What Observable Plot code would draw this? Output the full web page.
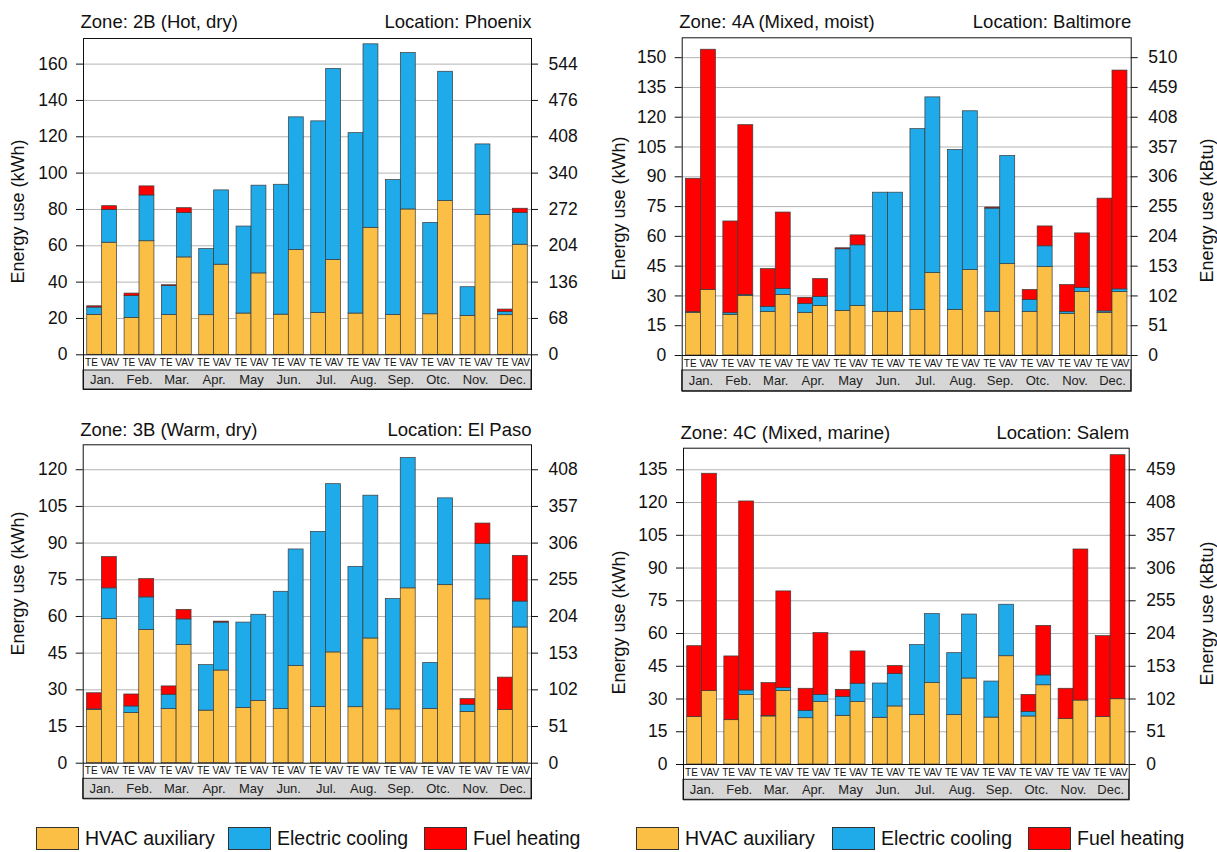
<!DOCTYPE html>
<html><head><meta charset="utf-8">
<script src="https://cdn.jsdelivr.net/npm/d3@7"></script>
<script src="https://cdn.jsdelivr.net/npm/@observablehq/plot@0.6"></script>
<style>
body{margin:0;background:#fff;font-family:"Liberation Sans",Arial,sans-serif;}
#root{position:relative;width:1217px;height:852px;overflow:hidden;}
.panel{position:absolute;}
.sw{position:absolute;width:43px;height:23px;box-sizing:border-box;border:1px solid #333;}
.lt{position:absolute;font-size:19.5px;line-height:23px;color:#111;white-space:nowrap;}
</style></head>
<body><div id="root"></div>
<script>
const months = ["Jan.","Feb.","Mar.","Apr.","May","Jun.","Jul.","Aug.","Sep.","Otc.","Nov.","Dec."];
const systems = ["TE","VAV"];
const series = ["HVAC auxiliary","Electric cooling","Fuel heating"];
const colors = ["#FBBF45","#1FAAE9","#FF0000"];

// values ordered Jan TE, Jan VAV, Feb TE, Feb VAV, ... (kWh)
const phoenixAux  = [22,61.7,20.3,62.5,21.9,53.6,21.8,49.6,22.7,44.8,22.1,57.7,23,52.2,22.7,69.9,21.9,80,22.3,84.6,21.4,76.9,21.8,60.6];
const phoenixCool = [4,18.1,12,25.2,15.9,24.4,36.4,40.9,47.9,48.3,71.5,73,105.5,105.2,99.3,101,74.3,86.1,50.3,71.2,15.8,38.9,1.8,17.4];
const phoenixHeat = [0.7,2,1.4,5,0.5,2.7,0,0,0,0,0,0,0,0,0,0,0,0,0,0,0,0,1.3,2.4];
const phoenixTicks = [0,20,40,60,80,100,120,140,160];
const phoenixKbtu = ["0","68","136","204","272","340","408","476","544"];

const baltimoreAux  = [21.5,33,20.5,30,22,30.5,21.5,25,22.5,25,22,22,23,41.5,23,43,22,46,22,44.5,21,32,21.5,32];
const baltimoreCool = [0.3,0,0.8,0.5,2.5,3,4.5,4.5,31,30.5,60,60,91,88.5,80.5,80,52,54.5,6,10.5,1,2,0.7,1.3];
const baltimoreHeat = [67.2,121,46.2,85.5,19,38.5,3,9,0.5,5,0,0,0,0,0,0,0.5,0,5,10,13.5,27.5,56.8,110.2];
const baltimoreTicks = [0,15,30,45,60,75,90,105,120,135,150];
const baltimoreKbtu = ["0","51","102","153","204","255","306","357","408","459","510"];

const elPasoAux  = [21.7,58.9,20.5,54.5,22.1,48.3,21.5,37.9,22.6,25.5,22.1,39.7,23,45.3,22.9,51,22,71.5,22.2,72.8,21,67,21.7,55.5];
const elPasoCool = [0.3,12.6,2.7,13.3,5.9,10.5,18.6,19.6,34.9,35.2,48,47.7,71.6,68.8,57.4,58.4,45.1,53.3,18.8,35.5,2.9,22.6,0,10.6];
const elPasoHeat = [6.6,12.8,4.9,7.5,3.4,3.9,0,0.4,0,0,0,0,0,0,0,0,0,0,0,0,2.3,8.4,13.3,18.7];
const elPasoTicks = [0,15,30,45,60,75,90,105,120];
const elPasoKbtu = ["0","51","102","153","204","255","306","357","408"];

const salemAux  = [21.7,33.6,20.3,31.8,22,33.6,21.2,28.6,22.3,28.6,21.4,26.6,22.6,37.3,22.6,39.4,21.5,49.6,22,36.3,20.8,29.3,21.7,29.9];
const salemCool = [0,0,0,2.1,0.3,1.4,3.4,3.3,8.7,8.4,15.7,14.9,32.1,31.6,28.4,29.3,16.5,23.6,2.1,4.5,0,0,0,0];
const salemHeat = [32.5,99.6,29.2,86.6,15,44.3,10.1,28.3,3.2,14.8,0,3.6,0,0,0,0,0,0,7.8,22.7,13.9,69.2,37.1,111.8];
const salemTicks = [0,15,30,45,60,75,90,105,120,135];
const salemKbtu = ["0","51","102","153","204","255","306","357","408","459"];

// layout (pixels inside each panel svg)
const panels = [
  {zone:"Zone: 2B (Hot, dry)", loc:"Location: Phoenix", aux:phoenixAux, cool:phoenixCool, heat:phoenixHeat, ticks:phoenixTicks, kbtu:phoenixKbtu,
   left:0, top:0, width:600, height:410, fl:83, fr:531, ft:38, fz:354.3, fg:370, fb:389, yTop:174.1, titleY:27, ylX:18, ylY:211, kLabel:false},
  {zone:"Zone: 4A (Mixed, moist)", loc:"Location: Baltimore", aux:baltimoreAux, cool:baltimoreCool, heat:baltimoreHeat, ticks:baltimoreTicks, kbtu:baltimoreKbtu,
   left:600, top:0, width:617, height:410, fl:81.7, fr:530.7, ft:37.3, fz:355, fg:370, fb:390.7, yTop:160, titleY:27, ylX:19, ylY:208, kLabel:true, kX:607, kY:210},
  {zone:"Zone: 3B (Warm, dry)", loc:"Location: El Paso", aux:elPasoAux, cool:elPasoCool, heat:elPasoHeat, ticks:elPasoTicks, kbtu:elPasoKbtu,
   left:0, top:410, width:600, height:410, fl:82.7, fr:531, ft:34.3, fz:352.7, fg:368.3, fb:388.3, yTop:130.2, titleY:25, ylX:18, ylY:173, kLabel:false},
  {zone:"Zone: 4C (Mixed, marine)", loc:"Location: Salem", aux:salemAux, cool:salemCool, heat:salemHeat, ticks:salemTicks, kbtu:salemKbtu,
   left:600, top:410, width:617, height:410, fl:83, fr:528.7, ft:37.7, fz:354, fg:369.3, fb:389.3, yTop:144.9, titleY:28, ylX:19, ylY:212, kLabel:true, kX:607, kY:203}
];

const root = document.getElementById("root");
const font = "'Liberation Sans', Arial, sans-serif";

for (const p of panels) {
  const rows = [];
  for (let k = 0; k < 24; k++) {
    const m = Math.floor(k / 2), s = k % 2;
    const vals = [p.aux[k], p.cool[k], p.heat[k]];
    let base = 0;
    vals.forEach((v, j) => {
      if (v > 0) rows.push({series: series[j], x1: m + 0.1 + 0.4 * s, x2: m + 0.5 + 0.4 * s, y1: base, y2: base + v});
      base += v;
    });
  }
  const unit = (p.fz - p.ft) / p.yTop;           // px per kWh
  const pxPerMonth = (p.fr - p.fl) / 12;          // px per month slot
  const toY = px => (p.fz - px) / unit;           // svg px -> y data
  const toX = px => (px - p.fl) / pxPerMonth;     // svg px -> x data
  const yMin = toY(p.fb);
  const yGray = toY(p.fg);
  const tl = 7 / pxPerMonth;

  const marks = [
    Plot.ruleY(p.ticks.filter(t => t > 0), {stroke: "#b4b4b4", strokeWidth: 1}),
    Plot.rect(rows, {x1: "x1", x2: "x2", y1: "y1", y2: "y2", fill: "series", stroke: "#3a3a3a", strokeWidth: 0.7}),
    Plot.rect([0], {x1: 0, x2: 12, y1: yMin, y2: yGray, fill: "#d6d6d6", stroke: "#222", strokeWidth: 1}),
    Plot.ruleY([0], {stroke: "#111", strokeWidth: 1}),
    Plot.frame({stroke: "#111", strokeWidth: 1}),
    Plot.ruleY(p.ticks, {x1: -tl, x2: 0, stroke: "#111"}),
    Plot.ruleY(p.ticks, {x1: 12, x2: 12 + tl, stroke: "#111"}),
    Plot.text(p.ticks, {x: 0, y: d => d, text: d => String(d), textAnchor: "end", dx: -16, fontSize: 17.5, fill: "#111"}),
    Plot.text(p.ticks, {x: 12, y: d => d, text: (d, i) => p.kbtu[i], textAnchor: "start", dx: 17, fontSize: 17.5, fill: "#111"}),
    Plot.text(months, {x: (d, i) => i + 0.5, y: 0, text: () => systems.join(" "), dy: 8, fontSize: 10, fill: "#111"}),
    Plot.text(months, {x: (d, i) => i + 0.5, y: (yMin + yGray) / 2, text: d => d, fontSize: 13, fill: "#222"}),
    Plot.text([p.zone], {x: toX(p.fl - 3), y: toY(p.titleY), textAnchor: "start", lineAnchor: "bottom", fontSize: 18.5, fill: "#111"}),
    Plot.text([p.loc], {x: 12, y: toY(p.titleY), textAnchor: "end", lineAnchor: "bottom", fontSize: 18.5, fill: "#111"}),
    Plot.text(["Energy use (kWh)"], {x: toX(p.ylX), y: toY(p.ylY), rotate: -90, fontSize: 18, fill: "#111"})
  ];
  if (p.kLabel) marks.push(Plot.text(["Energy use (kBtu)"], {x: toX(p.kX), y: toY(p.kY), rotate: -90, fontSize: 18, fill: "#111"}));

  const chart = Plot.plot({
    width: p.width, height: p.height,
    marginLeft: p.fl, marginRight: p.width - p.fr, marginTop: p.ft, marginBottom: p.height - p.fb,
    x: {domain: [0, 12], axis: null},
    y: {domain: [yMin, p.yTop], axis: null},
    color: {domain: series, range: colors},
    style: {fontFamily: font, background: "transparent", overflow: "visible"},
    marks
  });
  const div = document.createElement("div");
  div.className = "panel";
  div.style.left = p.left + "px";
  div.style.top = p.top + "px";
  div.appendChild(chart);
  root.appendChild(div);
}

// legends (one under each column)
const legendStarts = [[36, 228, 424], [636, 832, 1028]];
for (const starts of legendStarts) {
  starts.forEach((x, j) => {
    const sw = document.createElement("div");
    sw.className = "sw";
    sw.style.left = x + "px"; sw.style.top = "827px"; sw.style.background = colors[j];
    root.appendChild(sw);
    const t = document.createElement("div");
    t.className = "lt";
    t.textContent = series[j];
    t.style.left = (x + 49) + "px"; t.style.top = "827px";
    root.appendChild(t);
  });
}
</script></body></html>
